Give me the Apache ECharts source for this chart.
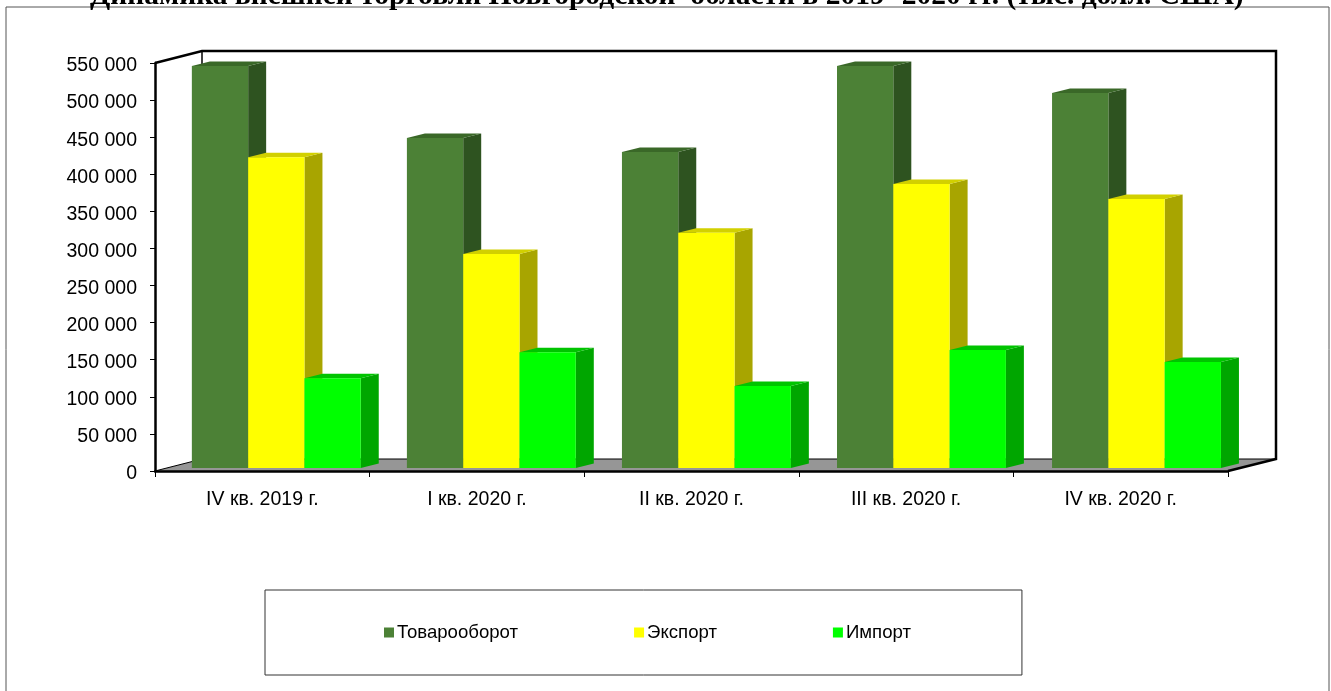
<!DOCTYPE html>
<html><head><meta charset="utf-8">
<style>html,body{margin:0;padding:0;background:#fff}#c{width:1331px;height:691px}</style>
<script src="https://cdn.jsdelivr.net/npm/echarts@6/dist/echarts.min.js"></script>
</head><body><div id="c"></div>
<script>
const categories = ['IV кв. 2019 г.', 'I кв. 2020 г.', 'II кв. 2020 г.', 'III кв. 2020 г.', 'IV кв. 2020 г.'];
const turnover = [542000, 445000, 426000, 542000, 505500];
const exportsData = [419000, 288500, 317000, 383000, 362600];
const importsData = [121000, 156000, 110500, 159000, 143000];
const titleText = 'Динамика внешней торговли Новгородской  области в 2019- 2020 гг. (тыс. долл. США)';

const DEPTH_X = 47, DEPTH_Y = 12;        // chart box depth
const BAR_DX = 18, BAR_DY = 4.5;         // bar depth
const BAR_SHIFT_Y = 3;                   // bars stand in the floor, above the front edge
const BAR_RATIO = 56.3 / 214.6;
const GROUP_SHIFT = 14;
const GROUP_DRIFT = 0.45;                // perspective drift per category

function barRenderer(order, colors) {
  return function (params, api) {
    const p = api.coord([api.value(0), api.value(1)]);
    const p0 = api.coord([api.value(0), 0]);
    const w = api.size([1, 0])[0] * BAR_RATIO;
    const x = p[0] + GROUP_SHIFT + GROUP_DRIFT * api.value(0) + (order - 1.5) * w;
    const yT = p[1] - BAR_SHIFT_Y, yB = p0[1] - BAR_SHIFT_Y;
    return {
      type: 'group',
      children: [
        { type: 'polygon', shape: { points: [[x + w, yT], [x + w + BAR_DX, yT - BAR_DY], [x + w + BAR_DX, yB - BAR_DY], [x + w, yB]] }, style: { fill: colors.side } },
        { type: 'polygon', shape: { points: [[x, yT], [x + BAR_DX, yT - BAR_DY], [x + w + BAR_DX, yT - BAR_DY], [x + w, yT]] }, style: { fill: colors.top } },
        { type: 'rect', shape: { x: x, y: yT, width: w, height: yB - yT }, style: { fill: colors.front } }
      ]
    };
  };
}

function boxRenderer(params) {
  const g = params.coordSys;
  const L = g.x, R = g.x + g.width, T = g.y, B = g.y + g.height;
  const lineK = { stroke: '#000', lineWidth: 2.5, fill: null };
  return {
    type: 'group',
    children: [
      { type: 'polygon', shape: { points: [[L, B], [L + DEPTH_X, B - DEPTH_Y], [R + DEPTH_X + 1, B - DEPTH_Y], [R, B]] }, style: { fill: '#969696' } },
      { type: 'polyline', shape: { points: [[L, T], [L + DEPTH_X, T - DEPTH_Y], [R + DEPTH_X + 1, T - DEPTH_Y], [R + DEPTH_X + 1, B - DEPTH_Y], [R, B]] }, style: lineK },
      { type: 'line', shape: { x1: L + DEPTH_X, y1: T - DEPTH_Y, x2: L + DEPTH_X, y2: B - DEPTH_Y }, style: { stroke: '#000', lineWidth: 1.5 } },
      { type: 'polyline', shape: { points: [[L, B], [L + DEPTH_X, B - DEPTH_Y], [R + DEPTH_X + 1, B - DEPTH_Y]] }, style: { stroke: '#000', lineWidth: 1, fill: null } }
    ]
  };
}

function barSeries(name, values, order, colors) {
  return {
    name: name, type: 'custom', clip: false, z: 3 + order,
    itemStyle: { color: colors.front },
    encode: { x: 0, y: 1 },
    renderItem: barRenderer(order, colors),
    data: values.map((v, i) => [i, v])
  };
}

const chart = echarts.init(document.getElementById('c'));
chart.setOption({
  animation: false,
  backgroundColor: '#fff',
  textStyle: { fontFamily: '"Liberation Sans"' },
  title: {
    text: titleText, left: 85, top: -24,
    textStyle: { fontFamily: '"Liberation Serif"', fontWeight: 'bold', fontSize: 29.5, color: '#000' }
  },
  graphic: [{
    type: 'rect', z: -1, silent: true,
    shape: { x: 6, y: 7, width: 1323, height: 702 },
    style: { fill: 'none', stroke: '#555', lineWidth: 1 }
  }],
  grid: { left: 155, top: 63, width: 1073, height: 408, containLabel: false },
  xAxis: {
    type: 'category', data: categories, boundaryGap: true,
    axisLine: { lineStyle: { color: '#000', width: 2.5 } },
    axisTick: { show: true, length: 6, lineStyle: { color: '#000', width: 1 } },
    axisLabel: { color: '#000', fontSize: 19.5, margin: 19 },
    splitLine: { show: false }, z: 10
  },
  yAxis: {
    type: 'value', min: 0, max: 550000, interval: 50000,
    axisLine: { show: true, lineStyle: { color: '#000', width: 2.5 } },
    axisTick: { show: true, length: 5, lineStyle: { color: '#000', width: 1 } },
    axisLabel: {
      color: '#000', fontSize: 19.5, margin: 18, verticalAlign: 'top', lineHeight: 6,
      formatter: v => String(v).replace(/\B(?=(\d{3})+$)/g, ' ')
    },
    splitLine: { show: false }, z: 10
  },
  legend: {
    data: ['Товарооборот', 'Экспорт', 'Импорт'],
    left: 265, top: 590,
    padding: [33, 111, 33, 119],
    borderColor: '#333', borderWidth: 1,
    itemGap: 116, itemWidth: 10, itemHeight: 10,
    icon: 'rect',
    textStyle: { color: '#000', fontSize: 18.6, padding: [1, 0, 0, -2] }
  },
  series: [
    { name: 'box', type: 'custom', clip: false, z: 1, silent: true, renderItem: boxRenderer, data: [[0, 0]], encode: { x: 0, y: 1 } },
    barSeries('Товарооборот', turnover, 0, { front: '#4C8136', side: '#2E5320', top: '#3A6828' }),
    barSeries('Экспорт', exportsData, 1, { front: '#FFFF00', side: '#A8A500', top: '#D2D000' }),
    barSeries('Импорт', importsData, 2, { front: '#00FF00', side: '#00A600', top: '#00C400' })
  ]
});
</script></body></html>
